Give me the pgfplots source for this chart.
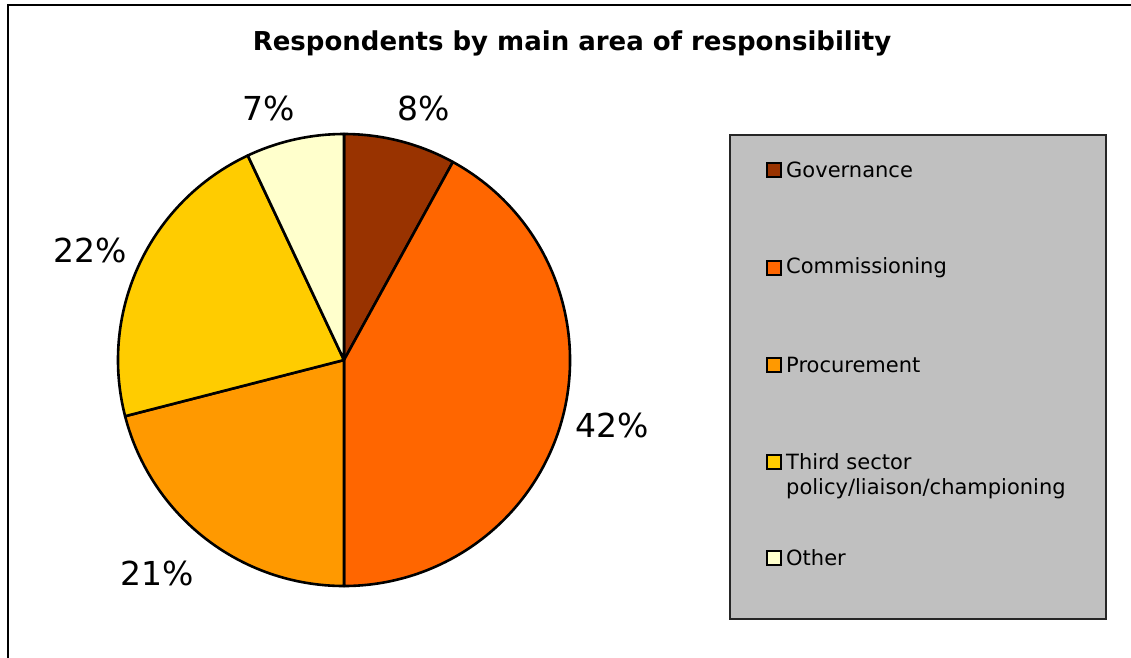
\documentclass[border=0pt]{standalone}
\usepackage{pgfplots}
\pgfplotsset{compat=1.18}
\usepackage{fontspec}
\setmainfont{DejaVu Sans}
\definecolor{gov}{HTML}{993300}
\definecolor{com}{HTML}{FF6600}
\definecolor{pro}{HTML}{FF9900}
\definecolor{thi}{HTML}{FFCC00}
\definecolor{oth}{HTML}{FFFFCC}
\definecolor{legbg}{HTML}{C0C0C0}
\begin{document}
\begin{tikzpicture}
\begin{axis}[
  at={(0,0)}, anchor=south west,
  scale only axis, width=1131pt, height=657pt,
  xmin=0, xmax=1131, ymin=0, ymax=657, y dir=reverse,
  hide axis, clip=false]
% outer frame (left and top edges visible)
\draw[line width=2pt, black] (axis cs:8,670) -- (axis cs:8,5) -- (axis cs:1140,5);
% title
\node[font=\fontsize{26}{30}\selectfont\bfseries] at (axis cs:572,43) {Respondents by main area of responsibility};
% pie slices: value/colour, clockwise from 12 o'clock
\xdef\startang{90}
\foreach \v/\c in {8/gov, 42/com, 21/pro, 22/thi, 7/oth} {
  \pgfmathsetmacro{\endang}{\startang - 3.6*\v}
  \edef\temp{\noexpand\filldraw[fill=\c, draw=black, line width=2.6pt, line join=round]
    (axis cs:344,360) -- ++(\startang:226pt) arc[start angle=\startang, end angle=\endang, radius=226pt] -- cycle;}
  \temp
  \xdef\startang{\endang}
}
% percentage labels
\node[font=\fontsize{33}{36}\selectfont] at (axis cs:424,108) {8\%};
\node[font=\fontsize{33}{36}\selectfont] at (axis cs:612,425) {42\%};
\node[font=\fontsize{33}{36}\selectfont] at (axis cs:157,573) {21\%};
\node[font=\fontsize{33}{36}\selectfont] at (axis cs:90,250) {22\%};
\node[font=\fontsize{33}{36}\selectfont] at (axis cs:269,108) {7\%};
% legend
\filldraw[fill=legbg, draw=black!85, line width=2pt] (axis cs:730,135) rectangle (axis cs:1106,619);
\foreach \y/\c/\t in {170/gov/Governance, 268/com/Commissioning, 365/pro/Procurement, 462/thi/Third sector, 558/oth/Other} {
  \edef\temp{\noexpand\filldraw[fill=\c, draw=black, line width=2pt] (axis cs:767,\y-7) rectangle (axis cs:781,\y+7);
    \noexpand\node[anchor=west, inner sep=0pt, font=\noexpand\fontsize{21}{26}\noexpand\selectfont] at (axis cs:786,\y) {\t};}
  \temp
}
\node[anchor=west, inner sep=0pt, font=\fontsize{21}{26}\selectfont] at (axis cs:786,489) {policy/liaison/championing};
\end{axis}
\pgfresetboundingbox
\path[use as bounding box] (0,0) rectangle (1131pt,657pt);
\end{tikzpicture}
\end{document}
